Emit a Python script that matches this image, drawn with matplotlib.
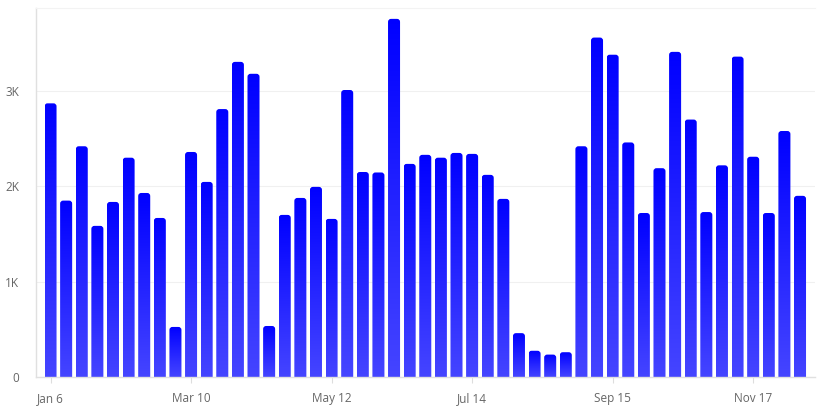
import matplotlib
matplotlib.use("Agg")
import matplotlib.pyplot as plt
import numpy as np
from matplotlib.colors import LinearSegmentedColormap
from matplotlib.patches import FancyBboxPatch

plt.rcParams['font.family'] = ['Open Sans', 'DejaVu Sans']

values = [2870, 1850, 2420, 1585, 1836, 2300, 1930, 1668, 525, 2360,
          2046, 2810, 3305, 3180, 535, 1700, 1878, 1994, 1658, 3010,
          2150, 2145, 3756, 2235, 2330, 2300, 2350, 2340, 2120, 1868,
          460, 275, 235, 260, 2420, 3560, 3380, 2460, 1720, 2190,
          3410, 2700, 1730, 2220, 3360, 2310, 1720, 2580, 1900]
tick_idx = [0, 9, 18, 27, 36, 45]
tick_labels = ["Jan 6", "Mar 10", "May 12", "Jul 14", "Sep 15", "Nov 17"]
ytick_vals = [0, 1000, 2000, 3000]
ytick_labels = ["0", "1K", "2K", "3K"]

W, H = 824, 407
fig = plt.figure(figsize=(W / 100, H / 100), dpi=100)
ax = fig.add_axes([36 / W, 1 - 377 / H, (815 - 36) / W, (377 - 8) / H])

x = np.arange(len(values))
xlim = (-0.93, len(values) - 1 + 0.96)
ylim = (0, 3870)
ax.set_xlim(*xlim)
ax.set_ylim(*ylim)

bars = ax.bar(x, values, width=0.77, color='none', edgecolor='none')

cmap = LinearSegmentedColormap.from_list('g', ['#4545ff', '#0000ff'])
grad = np.linspace(0, 1, 256).reshape(-1, 1)

ax_w_px = (815 - 36)
ax_h_px = (377 - 8)
ux = (xlim[1] - xlim[0]) / ax_w_px
uy = (ylim[1] - ylim[0]) / ax_h_px
r_px = 3.0
for b in bars:
    x0 = b.get_x()
    w = b.get_width()
    h = b.get_height()
    clip = FancyBboxPatch((x0, -r_px * uy * 2), w, h + r_px * uy * 2,
                          boxstyle=f"round,pad=0,rounding_size={r_px * ux}",
                          mutation_aspect=uy / ux,
                          transform=ax.transData, facecolor='none', edgecolor='none')
    ax.add_patch(clip)
    im = ax.imshow(grad, extent=[x0, x0 + w, 0, h], origin='lower',
                   aspect='auto', cmap=cmap, interpolation='bilinear', zorder=2)
    im.set_clip_path(clip)

ax.set_xlim(*xlim)
ax.set_ylim(*ylim)

ax.set_xticks(tick_idx)
ax.set_xticklabels(tick_labels)
ax.set_yticks(ytick_vals)
ax.set_yticklabels(ytick_labels)
ax.tick_params(axis='x', length=4, color='#dddddd', labelcolor='#666666',
               labelsize=8.5, pad=7)
ax.tick_params(axis='y', length=0, labelcolor='#666666', labelsize=8.5, pad=12)

ax.grid(axis='y', color='#f0f0f0', linewidth=0.8, zorder=0)
ax.set_axisbelow(True)
for s in ['left', 'bottom']:
    ax.spines[s].set_color('#e0e0e0')
    ax.spines[s].set_linewidth(1.0)
ax.spines['top'].set_color('#f3f3f3')
ax.spines['top'].set_linewidth(0.8)
ax.spines['right'].set_visible(False)

fig.savefig('out.png', dpi=100)
